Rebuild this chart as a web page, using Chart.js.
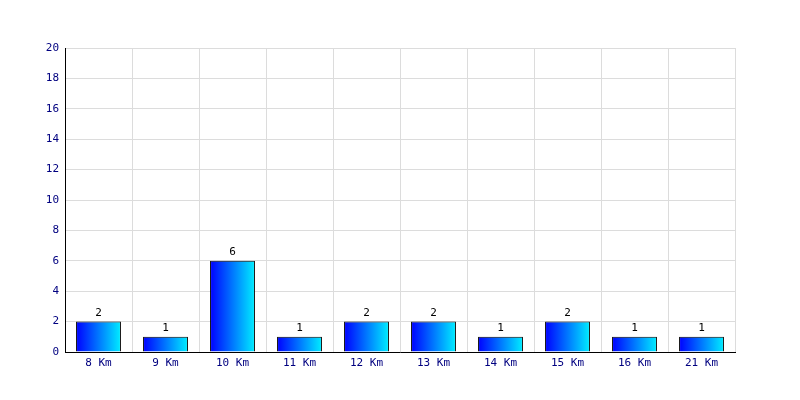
<!DOCTYPE html>
<html>
<head>
<meta charset="utf-8">
<script src="https://cdn.jsdelivr.net/npm/chart.js@4/dist/chart.umd.min.js"></script>
<style>
  html, body { margin: 0; padding: 0; background: #fff; }
  #wrap { width: 800px; height: 400px; }
</style>
</head>
<body>
<div id="wrap"><canvas id="barChart" width="800" height="400"></canvas></div>
<script>
// Datos del gráfico
const categories = ['8 Km', '9 Km', '10 Km', '11 Km', '12 Km', '13 Km', '14 Km', '15 Km', '16 Km', '21 Km'];
const counts = [2, 1, 6, 1, 2, 2, 1, 2, 1, 1];
const yTicks = [0, 2, 4, 6, 8, 10, 12, 14, 16, 18, 20];

const FONT = "'DejaVu Sans Mono', monospace";
const BAR_PCT = 0.67;

// Degradado horizontal de cada barra
function barGradient(ctx) {
  const chart = ctx.chart;
  if (!chart.chartArea) return '#0000ff';
  const xs = chart.scales.x;
  const cx = xs.getPixelForValue(ctx.dataIndex);
  const w = xs.width / categories.length * BAR_PCT;
  const g = chart.ctx.createLinearGradient(cx - w / 2, 0, cx + w / 2, 0);
  g.addColorStop(0, '#0000ff');
  g.addColorStop(1, '#00eeff');
  return g;
}

// Etiquetas con el valor encima de cada barra
const valueLabels = {
  id: 'valueLabels',
  afterDatasetsDraw(chart) {
    const c = chart.ctx;
    const meta = chart.getDatasetMeta(0);
    c.save();
    c.font = '11px ' + FONT;
    c.fillStyle = '#000';
    c.textAlign = 'center';
    c.textBaseline = 'bottom';
    meta.data.forEach((bar, i) => {
      c.fillText(String(counts[i]), bar.x, bar.y - 3);
    });
    c.restore();
  }
};

function createChart() {
  const ctx = document.getElementById('barChart').getContext('2d');
  new Chart(ctx, {
    type: 'bar',
    data: {
      labels: categories,
      datasets: [{
        data: counts,
        backgroundColor: barGradient,
        borderColor: '#000',
        borderWidth: 1,
        borderSkipped: 'bottom',
        barPercentage: BAR_PCT,
        categoryPercentage: 1
      }]
    },
    options: {
      responsive: false,
      animation: false,
      devicePixelRatio: 1,
      layout: { padding: { top: 48, right: 65, bottom: 0, left: 0 } },
      plugins: { legend: { display: false }, tooltip: { enabled: false } },
      scales: {
        x: {
          grid: { color: '#dcdcdc', offset: true, drawTicks: false },
          border: { color: '#000', width: 1 },
          ticks: { color: '#000080', font: { family: FONT, size: 11 }, padding: 5 },
          afterFit(scale) { scale.height = 48; }
        },
        y: {
          min: 0,
          max: 20,
          afterBuildTicks(scale) { scale.ticks = yTicks.map(v => ({ value: v })); },
          grid: { color: '#dcdcdc', drawTicks: false },
          border: { color: '#000', width: 1 },
          ticks: { color: '#000080', font: { family: FONT, size: 11 }, padding: 6 },
          afterFit(scale) { scale.width = 65; }
        }
      }
    },
    plugins: [valueLabels]
  });
}

document.addEventListener('DOMContentLoaded', createChart);
</script>
</body>
</html>
